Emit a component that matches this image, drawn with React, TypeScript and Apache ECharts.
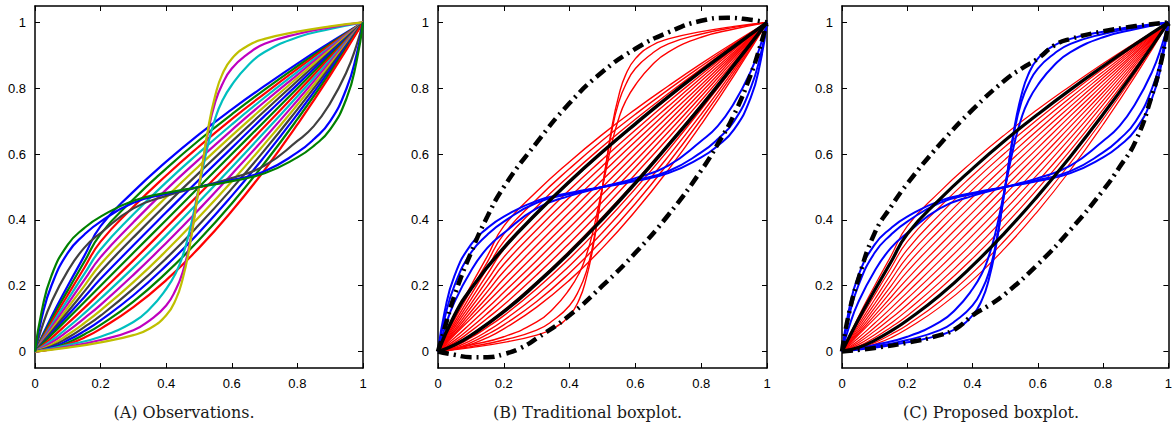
import React, { useEffect, useRef } from "react";
import * as echarts from "echarts";

// ---------- data ----------
const X_MAIN = [0, 0.05, 0.1, 0.15, 0.2, 0.3, 0.4, 0.5, 0.6, 0.7, 0.8, 0.9, 1];
const FAMILY: number[][] = [
  [0, 0.105, 0.2, 0.29, 0.381, 0.486, 0.577, 0.660, 0.736, 0.807, 0.875, 0.939, 1],
  [0, 0.097, 0.186, 0.272, 0.357, 0.463, 0.556, 0.642, 0.721, 0.796, 0.867, 0.935, 1],
  [0, 0.088, 0.172, 0.254, 0.334, 0.440, 0.535, 0.623, 0.706, 0.784, 0.859, 0.931, 1],
  [0, 0.080, 0.158, 0.235, 0.310, 0.417, 0.514, 0.604, 0.690, 0.772, 0.850, 0.926, 1],
  [0, 0.073, 0.145, 0.217, 0.287, 0.393, 0.492, 0.584, 0.673, 0.759, 0.841, 0.922, 1],
  [0, 0.066, 0.133, 0.199, 0.265, 0.370, 0.469, 0.564, 0.656, 0.745, 0.832, 0.917, 1],
  [0, 0.060, 0.121, 0.182, 0.243, 0.347, 0.447, 0.543, 0.638, 0.731, 0.822, 0.911, 1],
  [0, 0.054, 0.110, 0.165, 0.221, 0.323, 0.423, 0.522, 0.619, 0.716, 0.811, 0.906, 1],
  [0, 0.05, 0.1, 0.15, 0.2, 0.3, 0.4, 0.5, 0.6, 0.7, 0.8, 0.9, 1],
  [0, 0.041, 0.086, 0.132, 0.180, 0.277, 0.377, 0.478, 0.580, 0.684, 0.788, 0.894, 1],
  [0, 0.033, 0.073, 0.116, 0.161, 0.255, 0.353, 0.455, 0.560, 0.667, 0.776, 0.887, 1],
  [0, 0.027, 0.062, 0.101, 0.142, 0.233, 0.330, 0.432, 0.539, 0.649, 0.763, 0.880, 1],
  [0, 0.021, 0.051, 0.086, 0.125, 0.211, 0.306, 0.409, 0.517, 0.631, 0.750, 0.873, 1],
  [0, 0.016, 0.042, 0.074, 0.109, 0.191, 0.283, 0.385, 0.495, 0.612, 0.736, 0.865, 1],
  [0, 0.012, 0.034, 0.062, 0.095, 0.171, 0.261, 0.362, 0.473, 0.593, 0.721, 0.857, 1],
  [0, 0.009, 0.027, 0.052, 0.081, 0.152, 0.239, 0.339, 0.450, 0.573, 0.706, 0.848, 1],
  [0, 0.007, 0.022, 0.042, 0.069, 0.135, 0.217, 0.315, 0.427, 0.552, 0.690, 0.839, 1],
];

const X_S = [0, 0.1, 0.2, 0.3, 0.35, 0.4, 0.43, 0.45, 0.47, 0.5, 0.53, 0.55, 0.57, 0.6, 0.65, 0.7, 0.8, 0.9, 1];
const S_CYAN = [0, 0.02, 0.045, 0.09, 0.13, 0.19, 0.24, 0.29, 0.36, 0.5, 0.64, 0.71, 0.76, 0.81, 0.87, 0.91, 0.955, 0.98, 1];
const S_MAGENTA = [0, 0.015, 0.035, 0.065, 0.095, 0.14, 0.19, 0.24, 0.32, 0.5, 0.68, 0.76, 0.81, 0.86, 0.905, 0.935, 0.965, 0.985, 1];
const S_YELLOW = [0, 0.012, 0.028, 0.05, 0.07, 0.11, 0.16, 0.22, 0.31, 0.5, 0.69, 0.78, 0.84, 0.89, 0.93, 0.95, 0.972, 0.988, 1];

const X_F = [0, 0.02, 0.05, 0.1, 0.15, 0.2, 0.3, 0.4, 0.5, 0.6, 0.7, 0.8, 0.85, 0.9, 0.95, 0.98, 1];
const F_GRAY = [0, 0.07, 0.15, 0.245, 0.315, 0.36, 0.435, 0.473, 0.5, 0.527, 0.565, 0.64, 0.685, 0.755, 0.85, 0.93, 1];
const F_BLUE = [0, 0.1, 0.2, 0.3, 0.355, 0.395, 0.452, 0.479, 0.5, 0.521, 0.548, 0.605, 0.645, 0.7, 0.8, 0.9, 1];
const F_GREEN = [0, 0.12, 0.23, 0.325, 0.375, 0.41, 0.458, 0.482, 0.5, 0.518, 0.542, 0.59, 0.625, 0.675, 0.77, 0.88, 1];

// Panel B: pointwise quartiles and fences
const X_B_Q = [0, 0.05, 0.1, 0.2, 0.3, 0.4, 0.5, 0.6, 0.7, 0.8, 0.9, 1];
const B_Q3 = [0, 0.11, 0.19, 0.315, 0.42, 0.517, 0.607, 0.692, 0.774, 0.852, 0.927, 1];
const B_Q1 = [0, 0.02, 0.049, 0.121, 0.207, 0.301, 0.403, 0.512, 0.627, 0.746, 0.871, 1];
const X_B_UF = [0, 0.02, 0.05, 0.1, 0.15, 0.2, 0.3, 0.4, 0.5, 0.6, 0.7, 0.8, 0.88, 0.95, 1];
const B_UF = [0, 0.07, 0.17, 0.3, 0.41, 0.5, 0.635, 0.755, 0.85, 0.92, 0.97, 1.005, 1.014, 1.008, 1];
const X_B_LF = [0, 0.05, 0.1, 0.15, 0.2, 0.25, 0.3, 0.4, 0.5, 0.6, 0.7, 0.8, 0.85, 0.9, 0.95, 0.98, 1];
const B_LF = [0, -0.01, -0.017, -0.017, -0.008, 0.01, 0.04, 0.11, 0.2, 0.3, 0.415, 0.55, 0.63, 0.72, 0.84, 0.93, 1];

// Panel C: central region borders and envelope
const C_UPPER = [0, 0.097, 0.186, 0.272, 0.357, 0.463, 0.556, 0.642, 0.721, 0.796, 0.867, 0.935, 1];
const C_LOWER = [0, 0.012, 0.034, 0.062, 0.095, 0.171, 0.261, 0.362, 0.473, 0.593, 0.721, 0.857, 1];
const X_C_UE = [0, 0.02, 0.05, 0.1, 0.15, 0.2, 0.3, 0.4, 0.5, 0.55, 0.6, 0.65, 0.7, 0.8, 0.9, 1];
const C_UE = [0, 0.11, 0.22, 0.36, 0.44, 0.51, 0.63, 0.735, 0.825, 0.86, 0.89, 0.93, 0.95, 0.973, 0.989, 1];
const X_C_LE = [0, 0.1, 0.2, 0.3, 0.35, 0.4, 0.45, 0.5, 0.6, 0.7, 0.8, 0.85, 0.9, 0.95, 0.98, 1];
const C_LE = [0, 0.011, 0.027, 0.05, 0.07, 0.11, 0.14, 0.175, 0.265, 0.37, 0.49, 0.56, 0.64, 0.78, 0.89, 1];

const TICKS = [0, 0.2, 0.4, 0.6, 0.8, 1];
const CAPTIONS = ["(A) Observations.", "(B) Traditional boxplot.", "(C) Proposed boxplot."];
const COLORS = ["#0000FF", "#008000", "#FF0000", "#00BFBF", "#BF00BF", "#BFBF00", "#404040"];

// ---------- layout ----------
const GRIDS = [
  { left: 35, top: 6, width: 328, height: 362 },
  { left: 438, top: 6, width: 329, height: 362 },
  { left: 842, top: 6, width: 328, height: 362 },
];

const pairs = (xs: number[], ys: number[]) => xs.map((x, i) => [x, ys[i]]);
const fmt = (v: number) => String(+(+v).toFixed(1));

function line(g: number, xs: number[], ys: number[], color: string, width: number, type: any = "solid") {
  return {
    type: "line",
    xAxisIndex: g * 2,
    yAxisIndex: g * 2,
    data: pairs(xs, ys),
    showSymbol: false,
    symbol: "none",
    smooth: 0.5,
    silent: true,
    clip: true,
    lineStyle: { color, width, type, cap: "butt" },
  };
}

export default function App() {
  const ref = useRef<HTMLDivElement>(null);
  useEffect(() => {
    if (!ref.current) return;
    const chart = echarts.init(ref.current, undefined, { renderer: "svg" });
    const xAxis: any[] = [];
    const yAxis: any[] = [];
    GRIDS.forEach((_, g) => {
      const axLine = { show: true, onZero: false, lineStyle: { color: "#000", width: 1.5 } };
      const lbl = { color: "#000", fontSize: 13, fontFamily: "Liberation Sans", formatter: fmt };
      const tick = { inside: true, length: 5, lineStyle: { color: "#000" } };
      xAxis.push({
        type: "value", gridIndex: g, min: 0, max: 1, interval: 0.2, position: "bottom",
        axisLine: axLine, axisTick: tick,
        axisLabel: { ...lbl, margin: 9 }, splitLine: { show: false },
      });
      xAxis.push({
        type: "value", gridIndex: g, min: 0, max: 1, interval: 0.2, position: "top",
        axisLine: axLine, axisTick: tick,
        axisLabel: { show: false }, splitLine: { show: false },
      });
      yAxis.push({
        type: "value", gridIndex: g, min: -0.05, max: 1.05, position: "left",
        axisLine: axLine,
        axisTick: { ...tick, customValues: TICKS },
        axisLabel: { ...lbl, margin: 9, customValues: TICKS }, splitLine: { show: false },
      });
      yAxis.push({
        type: "value", gridIndex: g, min: -0.05, max: 1.05, position: "right",
        axisLine: axLine,
        axisTick: { ...tick, customValues: TICKS },
        axisLabel: { show: false }, splitLine: { show: false },
      });
    });

    const series: any[] = [];
    const sCurves = [S_CYAN, S_MAGENTA, S_YELLOW];
    const fCurves = [F_GRAY, F_BLUE, F_GREEN];
    const dashDot = [11, 5, 2, 5];
    // Panel A
    FAMILY.forEach((ys, i) => series.push(line(0, X_MAIN, ys, COLORS[i % 7], 2.2)));
    sCurves.forEach((ys, i) => series.push(line(0, X_S, ys, COLORS[(17 + i) % 7], 2.2)));
    fCurves.forEach((ys, i) => series.push(line(0, X_F, ys, COLORS[(20 + i) % 7], 2.2)));
    // Panel B
    FAMILY.forEach((ys) => series.push(line(1, X_MAIN, ys, "#FF0000", 1.4)));
    sCurves.forEach((ys) => series.push(line(1, X_S, ys, "#FF0000", 1.4)));
    fCurves.forEach((ys) => series.push(line(1, X_F, ys, "#0000FF", 2)));
    series.push(line(1, X_B_Q, B_Q3, "#000", 3.5));
    series.push(line(1, X_B_Q, B_Q1, "#000", 3.5));
    series.push(line(1, X_B_UF, B_UF, "#000", 4.5, dashDot));
    series.push(line(1, X_B_LF, B_LF, "#000", 4.5, dashDot));
    // Panel C
    FAMILY.forEach((ys) => series.push(line(2, X_MAIN, ys, "#FF0000", 1.2)));
    sCurves.forEach((ys) => series.push(line(2, X_S, ys, "#0000FF", 2)));
    fCurves.forEach((ys) => series.push(line(2, X_F, ys, "#0000FF", 2)));
    series.push(line(2, X_MAIN, C_UPPER, "#000", 3.2));
    series.push(line(2, X_MAIN, C_LOWER, "#000", 3.2));
    series.push(line(2, X_C_UE, C_UE, "#000", 4.5, dashDot));
    series.push(line(2, X_C_LE, C_LE, "#000", 4.5, dashDot));

    chart.setOption({
      animation: false,
      backgroundColor: "#fff",
      grid: GRIDS.map((g) => ({ ...g, containLabel: false })),
      xAxis,
      yAxis,
      series,
      graphic: GRIDS.map((g, i) => ({
        type: "text",
        x: g.left + g.width / 2 - 15,
        y: 412,
        style: {
          text: CAPTIONS[i],
          fontSize: 16,
          fontFamily: "DejaVu Serif",
          fill: "#1a1a1a",
          align: "center",
          verticalAlign: "middle",
        },
      })),
    });
    return () => chart.dispose();
  }, []);
  return (
    <div
      ref={ref}
      style={{ position: "fixed", left: 0, top: 0, width: 1175, height: 424, background: "#fff" }}
    />
  );
}
